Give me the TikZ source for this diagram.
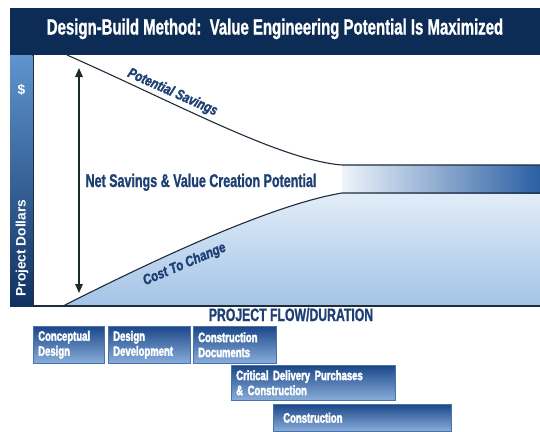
\documentclass[tikz,border=0pt]{standalone}
\usepackage{fontspec}
\setmainfont{Liberation Sans}
\newfontfamily\condA{Liberation Sans}[FakeStretch=0.68, BoldFeatures={FakeBold=1}]
\newfontfamily\condC{Liberation Sans}[FakeStretch=0.70, BoldFeatures={FakeBold=2.5}]
\newfontfamily\condB{Liberation Sans}[FakeStretch=0.80, BoldItalicFeatures={FakeBold=1.5}]
\usetikzlibrary{arrows.meta}
\definecolor{navy}{HTML}{0C2C55}
\definecolor{textnavy}{HTML}{1D3F73}
\definecolor{barTop}{HTML}{6094CE}
\definecolor{barBot}{HTML}{0F3161}
\definecolor{lowTop}{HTML}{E2EDF8}
\definecolor{lowBot}{HTML}{A3C3E6}
\definecolor{bandL}{HTML}{EEF4FB}
\definecolor{bandM}{HTML}{A6C4E5}
\definecolor{bandR}{HTML}{2A5FA3}
\definecolor{lineCol}{HTML}{1E2C3C}
\definecolor{arrowCol}{HTML}{1B2B2B}
\definecolor{boxTop}{HTML}{1B4788}
\definecolor{boxBot}{HTML}{8AAEDB}
\definecolor{boxEdge}{HTML}{4A72AC}
\begin{document}
\begin{tikzpicture}[x=1pt,y=-1pt,
  curve/.style={draw=lineCol, line width=1.1pt},
  frameline/.style={draw=lineCol, line width=1.3pt},
  dimarrow/.style={draw=arrowCol, line width=1.4pt, {Triangle[length=9pt,width=7.5pt]}-{Triangle[length=9pt,width=7.5pt]}},
  titletext/.style={text=white, font=\condA\bfseries\fontsize{22}{24}\selectfont, inner sep=0pt},
  bigtext/.style={text=textnavy, font=\condA\bfseries\fontsize{18.4}{20}\selectfont, inner sep=0pt},
  slanttext/.style={text=textnavy, font=\condB\bfseries\itshape\fontsize{14.5}{16}\selectfont, inner sep=0pt, anchor=base},
  axistext/.style={text=white, font=\bfseries\fontsize{13.7}{15}\selectfont, inner sep=0pt},
  phase/.style={anchor=north west, top color=boxTop, bottom color=boxBot, draw=boxEdge, line width=0.5pt,
    text=white, font=\condC\bfseries\fontsize{13.6}{15}\selectfont, align=left, inner xsep=5pt, inner ysep=0pt}
]
\useasboundingbox (0,0) rectangle (540,431);
\fill[white] (0,0) rectangle (540,431);
% key points
\coordinate (ps0) at (67,55);
\coordinate (ps1) at (342,165);
\coordinate (pe) at (540,165);
\coordinate (cc0) at (63,306);
\coordinate (cc1) at (342,193);
\coordinate (ce) at (540,193);
\coordinate (fb) at (540,306);
% lower fill
\shade[top color=lowTop, bottom color=lowBot] (cc0) .. controls (150,262) and (270,205) .. (cc1) -- (ce) -- (fb) -- cycle;
% band
\shade[left color=bandL, middle color=bandM, right color=bandR] (ps1) rectangle (ce);
% curves
\draw[curve] (ps0) .. controls (180,105) and (280,160) .. (ps1) -- (pe);
\draw[curve] (cc0) .. controls (150,262) and (270,205) .. (cc1) -- (ce);
% frame
\draw[frameline] (33,55) -- (33,306) -- (fb);
% left bar
\shade[top color=barTop, bottom color=barBot] (10,55) rectangle (32.3,306);
% title bar
\fill[navy] (10,8) rectangle (540,55);
\node[titletext, anchor=base] (title) at (275,34.5) {Design-Build Method:\ \ Value Engineering Potential Is Maximized};
% axis labels
\node[axistext] (dollar) at (21.5,90) {\$};
\node[axistext, rotate=90] (pdollars) at (22,248) {Project Dollars};
% arrow
\coordinate (atop) at (79,68);
\coordinate (abot) at (79,293);
\draw[dimarrow] (atop) -- (abot);
% labels
\node[bigtext, anchor=base] (net) at (201,187) {Net Savings \& Value Creation Potential};
\node[slanttext, rotate=-24] (potsav) at (171,96) {Potential Savings};
\node[slanttext, rotate=23] (cost) at (186,268) {Cost To Change};
\node[bigtext, anchor=base, font=\condA\bfseries\fontsize{18}{20}\selectfont] (flow) at (291,321) {PROJECT FLOW/DURATION};
% phases
\node[phase, text width=61pt, minimum height=37pt] (b1) at (33,326) {Conceptual\\Design};
\node[phase, text width=72pt, minimum height=37pt] (b2) at (108,326) {Design\\Development};
\node[phase, text width=73pt, minimum height=37pt] (b3) at (193,326) {Construction\\Documents};
\node[phase, text width=154pt, minimum height=35pt] (b4) at (231,365) {Critical Delivery Purchases\\\& Construction};
\node[phase, text width=158pt, inner xsep=10pt, minimum height=27pt] (b5) at (273,404) {Construction};
\end{tikzpicture}
\end{document}
